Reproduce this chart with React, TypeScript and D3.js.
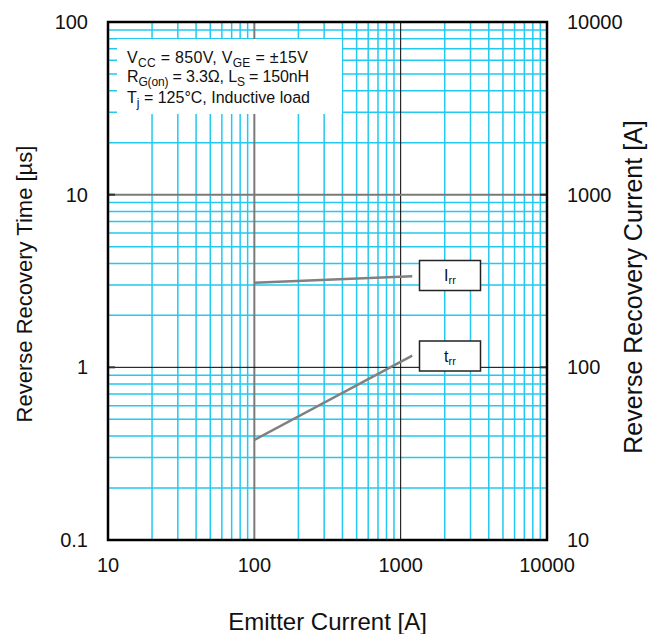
import React from "react";
import * as d3 from "d3";

const xTicks = [10, 100, 1000, 10000];
const yLeftTicks = [0.1, 1, 10, 100];
const yRightTicks = [10, 100, 1000, 10000];

const current = [100, 1200];
const irrValues = [309, 337];
const trrValues = [0.38, 1.17];

const W = 648;
const H = 634;
const M = { left: 108, right: 547, top: 22, bottom: 540 };
const FONT = "'Liberation Sans', Arial, sans-serif";
const CYAN = "#22c9f0";

export default function App() {
  const x = d3.scaleLog().domain([10, 10000]).range([M.left, M.right]);
  const yL = d3.scaleLog().domain([0.1, 100]).range([M.bottom, M.top]);
  const yR = d3.scaleLog().domain([10, 10000]).range([M.bottom, M.top]);

  const minorX: number[] = [];
  [10, 100, 1000].forEach((d) => {
    for (let k = 2; k <= 9; k++) minorX.push(d * k);
  });
  const minorY: number[] = [];
  [0.1, 1, 10].forEach((d) => {
    for (let k = 2; k <= 9; k++) minorY.push(d * k);
  });

  const irrLine = d3
    .line<number>()
    .x((_, i) => x(current[i]))
    .y((d) => yR(d));
  const trrLine = d3
    .line<number>()
    .x((_, i) => x(current[i]))
    .y((d) => yL(d));

  const majorStyle = (v: number, axis: "x" | "y") => {
    if ((axis === "x" && v === 100) || (axis === "y" && v === 10))
      return { stroke: "#7a7a7a", w: 2 };
    return { stroke: "#000", w: 1 };
  };

  return (
    <svg
      width={W}
      height={H}
      style={{ position: "absolute", left: 0, top: 0, display: "block", background: "#fff" }}
      fontFamily={FONT}
    >
      {/* minor grid */}
      {minorX.map((v) => (
        <line key={"mx" + v} x1={x(v)} x2={x(v)} y1={M.top} y2={M.bottom} stroke={CYAN} strokeWidth={1.5} />
      ))}
      {minorY.map((v) => (
        <line key={"my" + v} x1={M.left} x2={M.right} y1={yL(v)} y2={yL(v)} stroke={CYAN} strokeWidth={1.5} />
      ))}
      {/* major grid */}
      {[100, 1000].map((v) => {
        const s = majorStyle(v, "x");
        return <line key={"Mx" + v} x1={x(v)} x2={x(v)} y1={M.top} y2={M.bottom} stroke={s.stroke} strokeWidth={s.w} />;
      })}
      {[1, 10].map((v) => {
        const s = majorStyle(v, "y");
        return <line key={"My" + v} x1={M.left} x2={M.right} y1={yL(v)} y2={yL(v)} stroke={s.stroke} strokeWidth={s.w} />;
      })}
      {/* inward major ticks */}
      {[1, 10].map((v) => (
        <g key={"t" + v}>
          <line x1={M.left} x2={M.left + 7} y1={yL(v)} y2={yL(v)} stroke="#333" strokeWidth={2} />
          <line x1={M.right - 7} x2={M.right} y1={yL(v)} y2={yL(v)} stroke="#333" strokeWidth={2} />
        </g>
      ))}

      {/* legend box */}
      <rect x={117} y={39} width={225} height={75} fill="#fff" />
      <text x={127} y={63} fontSize={16} fill="#111" textLength={181} lengthAdjust="spacing">
        V<tspan fontSize={12} dy={4}>CC</tspan>
        <tspan dy={-4}> = 850V, V</tspan>
        <tspan fontSize={12} dy={4}>GE</tspan>
        <tspan dy={-4}> = ±15V</tspan>
      </text>
      <text x={127} y={82} fontSize={16} fill="#111" textLength={182} lengthAdjust="spacing">
        R<tspan fontSize={12} dy={4}>G(on)</tspan>
        <tspan dy={-4}> = 3.3Ω, L</tspan>
        <tspan fontSize={12} dy={4}>S</tspan>
        <tspan dy={-4}> = 150nH</tspan>
      </text>
      <text x={127} y={103} fontSize={16} fill="#111">
        T<tspan fontSize={12} dy={4}>j</tspan>
        <tspan dy={-4}> = 125°C, Inductive load</tspan>
      </text>

      {/* data lines */}
      <path d={irrLine(irrValues) || ""} fill="none" stroke="#808080" strokeWidth={2.5} />
      <path d={trrLine(trrValues) || ""} fill="none" stroke="#808080" strokeWidth={2.5} />

      {/* labels */}
      <rect x={419.5} y={260.5} width={61} height={30} fill="#fff" stroke="#222" strokeWidth={1.5} />
      <text x={450} y={281} fontSize={16} textAnchor="middle" fill="#111">
        I<tspan fontSize={11} dy={3}>rr</tspan>
      </text>
      <rect x={419.5} y={341} width={61} height={30} fill="#fff" stroke="#222" strokeWidth={1.5} />
      <text x={450} y={361.5} fontSize={16} textAnchor="middle" fill="#111">
        t<tspan fontSize={11} dy={3}>rr</tspan>
      </text>

      {/* frame */}
      <rect x={M.left} y={M.top} width={M.right - M.left} height={M.bottom - M.top} fill="none" stroke="#000" strokeWidth={2.5} />

      {/* tick labels */}
      {xTicks.map((v) => (
        <text key={"xl" + v} x={x(v)} y={572} fontSize={20} textAnchor="middle" fill="#111">
          {d3.format("d")(v)}
        </text>
      ))}
      {yLeftTicks.map((v) => (
        <text key={"yl" + v} x={88} y={yL(v)} dy="0.35em" fontSize={20} textAnchor="end" fill="#111">
          {String(v)}
        </text>
      ))}
      {yRightTicks.map((v) => (
        <text key={"yr" + v} x={567} y={yR(v)} dy="0.35em" fontSize={20} textAnchor="start" fill="#111">
          {String(v)}
        </text>
      ))}

      {/* axis titles */}
      <text x={(M.left + M.right) / 2} y={630} fontSize={24} textAnchor="middle" fill="#111">
        Emitter Current [A]
      </text>
      <text transform={`translate(32,284) rotate(-90)`} fontSize={22} textAnchor="middle" fill="#111">
        Reverse Recovery Time [µs]
      </text>
      <text transform={`translate(642,287) rotate(-90)`} fontSize={25} textAnchor="middle" fill="#111">
        Reverse Recovery Current [A]
      </text>
    </svg>
  );
}
